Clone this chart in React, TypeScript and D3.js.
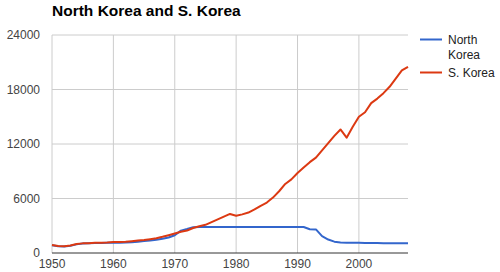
import React from "react";
import * as d3 from "d3";

const years = d3.range(1950, 2009);
const northKorea = [
  850, 740, 720, 800, 950, 1040, 1070, 1090, 1110, 1120,
  1120, 1130, 1150, 1190, 1250, 1310, 1370, 1460, 1570, 1700,
  1950, 2460, 2640, 2840, 2860, 2860, 2860, 2860, 2860, 2860,
  2860, 2860, 2860, 2860, 2860, 2860, 2860, 2860, 2860, 2860,
  2860, 2860, 2620, 2600, 1850, 1480, 1250, 1150, 1140, 1130,
  1120, 1110, 1100, 1090, 1080, 1070, 1070, 1060, 1060,
];
const southKorea = [
  880, 760, 740, 820, 1000, 1060, 1080, 1120, 1140, 1150,
  1200, 1210, 1230, 1300, 1370, 1430, 1520, 1620, 1780, 1960,
  2150, 2330, 2480, 2750, 2950, 3100, 3400, 3700, 4000, 4300,
  4100, 4250, 4450, 4800, 5200, 5550, 6100, 6800, 7600, 8100,
  8800, 9400, 10000, 10500, 11300, 12100, 12900, 13600, 12700, 13900,
  15000, 15500, 16500, 17000, 17600, 18300, 19200, 20100, 20500,
];
const yTicks = [0, 6000, 12000, 18000, 24000];
const xTicks = [1950, 1960, 1970, 1980, 1990, 2000];
const seriesNames = ["North Korea", "S. Korea"];
const colors = ["#3366cc", "#dc3912"];

export default function App() {
  const W = 500, H = 272;
  const left = 52, right = 408, top = 35, bottom = 253;
  const x = d3.scaleLinear().domain([1950, 2008]).range([left, right]);
  const y = d3.scaleLinear().domain([0, 24000]).range([bottom, top]);
  const line = d3.line<number>().x((_, i) => x(years[i])).y((d) => y(d));
  const font = "Arial, 'Liberation Sans', sans-serif";
  return (
    <svg width={W} height={H} style={{ position: "absolute", left: 0, top: 0 }}>
      <rect width={W} height={H} fill="#fff" />
      <text x={52} y={16} fontFamily={font} fontWeight="bold" fontSize={15.5} fill="#000">
        North Korea and S. Korea
      </text>
      {yTicks.map((t) => (
        <g key={t}>
          {t !== 0 && <line x1={left} x2={right} y1={y(t)} y2={y(t)} stroke="#cccccc" strokeWidth={1} />}
          <text x={40} y={y(t) + 4} textAnchor="end" fontFamily={font} fontSize={12} fill="#444">
            {t}
          </text>
        </g>
      ))}
      {xTicks.map((t) => (
        <g key={t}>
          <line x1={x(t)} x2={x(t)} y1={top} y2={bottom} stroke="#cccccc" strokeWidth={1} />
          <text x={x(t)} y={268} textAnchor="middle" fontFamily={font} fontSize={12} fill="#444">
            {t}
          </text>
        </g>
      ))}
      <line x1={left} x2={right} y1={bottom} y2={bottom} stroke="#333" strokeWidth={1} />
      <path d={line(northKorea) || ""} fill="none" stroke={colors[0]} strokeWidth={2} strokeLinejoin="round" />
      <path d={line(southKorea) || ""} fill="none" stroke={colors[1]} strokeWidth={2} strokeLinejoin="round" />
      <line x1={420} x2={442} y1={39.5} y2={39.5} stroke={colors[0]} strokeWidth={2} />
      <text fontFamily={font} fontSize={12} fill="#222">
        <tspan x={448} y={44}>North</tspan>
        <tspan x={448} y={59}>Korea</tspan>
      </text>
      <line x1={420} x2={442} y1={72.5} y2={72.5} stroke={colors[1]} strokeWidth={2} />
      <text x={448} y={77} fontFamily={font} fontSize={12} fill="#222">
        {seriesNames[1]}
      </text>
    </svg>
  );
}
